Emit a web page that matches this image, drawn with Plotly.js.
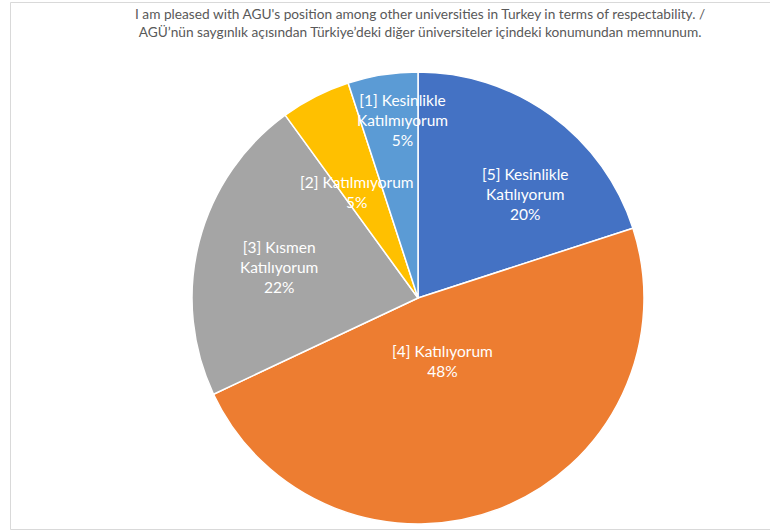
<!DOCTYPE html>
<html>
<head>
<meta charset="utf-8">
<script src="https://cdn.plot.ly/plotly-3.0.1.min.js"></script>
<style>html,body{margin:0;padding:0;background:#fff;}#chart{width:770px;height:532px;}</style>
</head>
<body>
<div id="chart"></div>
<script>
// ---- data ----
const categories = ["[5] Kesinlikle Katılıyorum", "[4] Katılıyorum", "[3] Kısmen Katılıyorum", "[2] Katılmıyorum", "[1] Kesinlikle Katılmıyorum"];
const labelLines = ["[5] Kesinlikle<br>Katılıyorum", "[4] Katılıyorum", "[3] Kısmen<br>Katılıyorum", "[2] Katılmıyorum", "[1] Kesinlikle<br>Katılmıyorum"];
const values = [20, 48, 22, 5, 5];
const titleText = "I am pleased with AGU's position among other universities in Turkey in terms of respectability. /<br>AGÜ’nün saygınlık açısından Türkiye’deki diğer üniversiteler içindeki konumundan memnunum.";

// ---- style ----
const colors = ["#4472C4", "#ED7D31", "#A5A5A5", "#FFC000", "#5B9BD5"];
const W = 770, H = 532;
const cx = 418, cy = 298, R = 226;
const labelRadius = [0.66, 0.30, 0.63, 0.54, 0.79];   // fraction of radius for label placement
const labelAngleShift = [10, 0, -2, -3, 4];          // degrees, clockwise nudge
const fontFam = "Lato, 'Open Sans', sans-serif";

const total = values.reduce((a, b) => a + b, 0);
const annotations = [];
let start = 0;
values.forEach((v, i) => {
  const frac = v / total;
  const mid = (start + frac / 2) * 360 + labelAngleShift[i];
  start += frac;
  const a = mid * Math.PI / 180;
  const px = cx + R * labelRadius[i] * Math.sin(a);
  const py = cy - R * labelRadius[i] * Math.cos(a);
  const pct = Math.round(frac * 100) + "%";
  annotations.push({
    xref: "paper", yref: "paper", x: px / W, y: 1 - py / H,
    text: labelLines[i] + "<br>" + pct, showarrow: false,
    font: {family: fontFam, size: 15.5, color: "#ffffff"},
    align: "center", xanchor: "center", yanchor: "middle"
  });
});

// title as annotation (top-anchored)
annotations.push({
  xref: "paper", yref: "paper", x: 420 / W, y: 1 - 3 / H,
  xanchor: "center", yanchor: "top", showarrow: false, align: "center",
  text: titleText,
  font: {family: fontFam, size: 13.7, color: "#595959"}
});

const trace = {
  type: "pie",
  labels: categories,
  values: values,
  sort: false,
  direction: "clockwise",
  rotation: 0,
  textinfo: "none",
  hoverinfo: "label+percent",
  marker: {colors: colors, line: {color: "#ffffff", width: 1.5}},
  domain: {x: [(cx - R) / W, (cx + R) / W], y: [1 - (cy + R) / H, 1 - (cy - R) / H]},
  showlegend: false
};

const layout = {
  width: W, height: H,
  margin: {l: 0, r: 0, t: 0, b: 0},
  paper_bgcolor: "#ffffff",
  showlegend: false,
  annotations: annotations,
  shapes: [{
    type: "rect", xref: "paper", yref: "paper",
    x0: 10.5 / W, x1: 1.02, y0: 1 - 529.5 / H, y1: 1 - 2.5 / H,
    line: {color: "#d9d9d9", width: 1}, fillcolor: "rgba(0,0,0,0)"
  }]
};

Plotly.newPlot("chart", [trace], layout, {displayModeBar: false, staticPlot: true});
</script>
</body>
</html>
